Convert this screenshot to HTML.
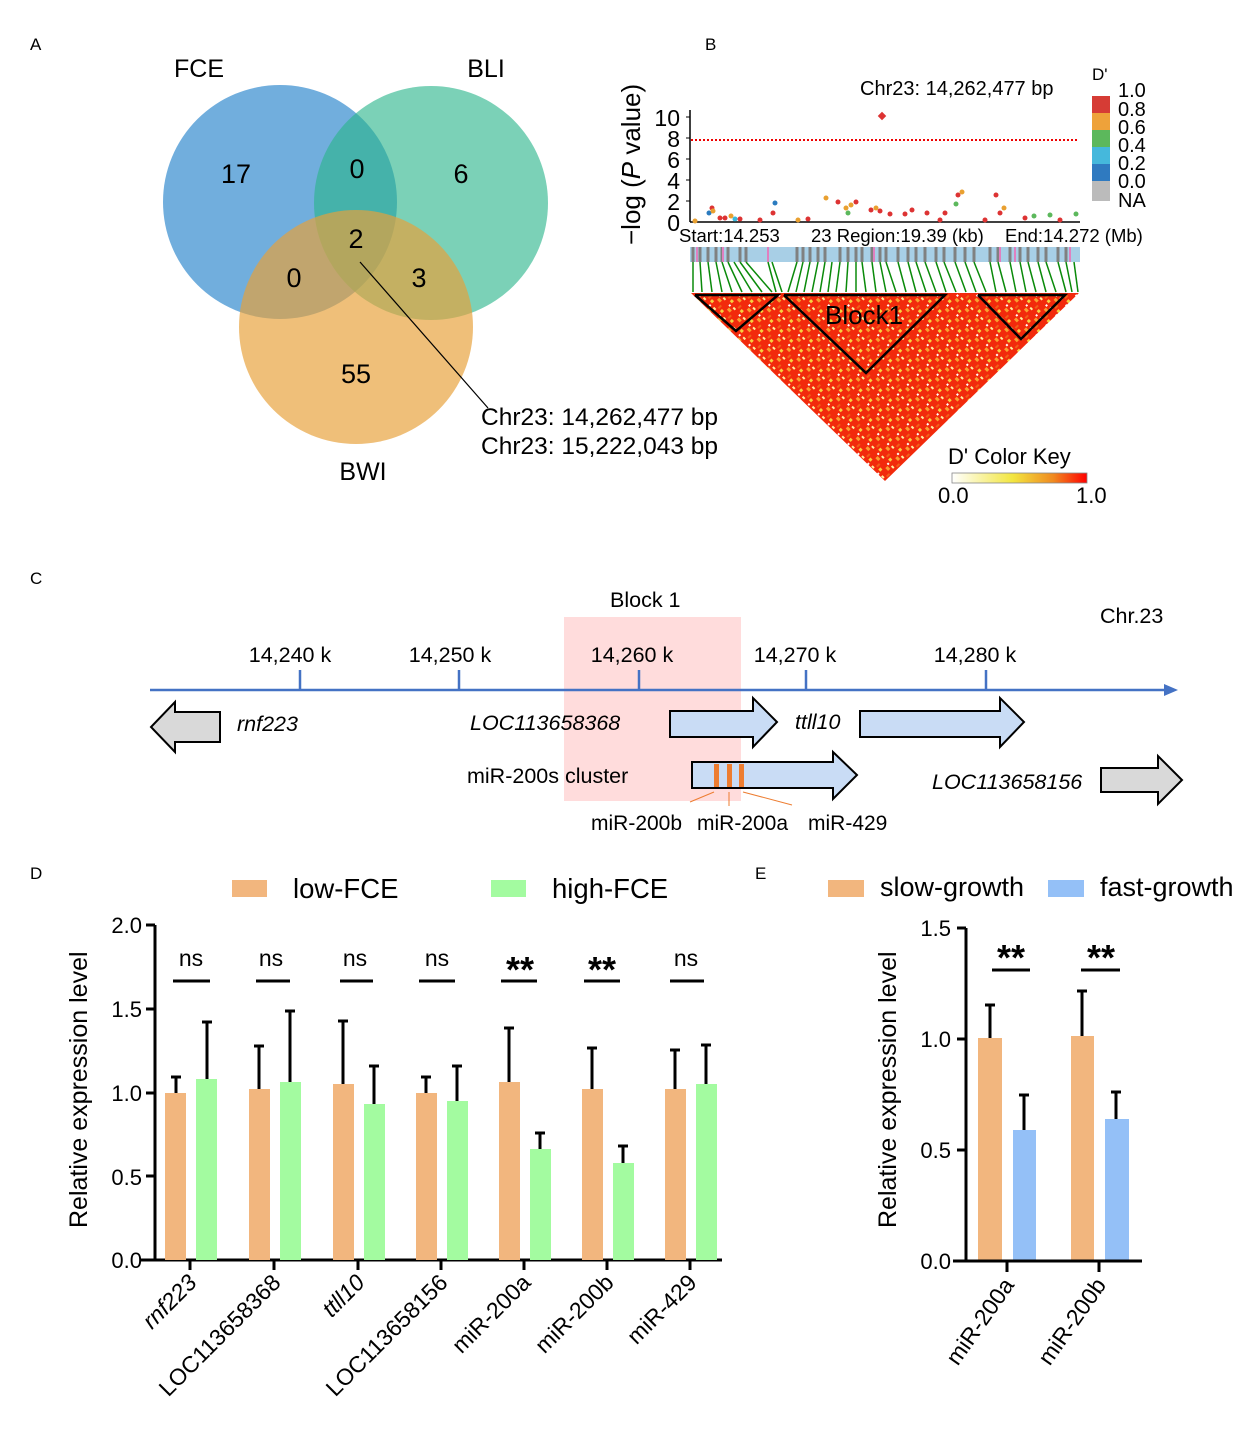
<!DOCTYPE html>
<html><head><meta charset="utf-8"><style>
html,body{margin:0;padding:0;background:#fff}
svg{display:block;font-family:"Liberation Sans",Arial,sans-serif}
</style></head><body>
<svg width="1253" height="1438" viewBox="0 0 1253 1438" xmlns="http://www.w3.org/2000/svg">
<defs>
<linearGradient id="ck" x1="0" x2="1" y1="0" y2="0">
<stop offset="0" stop-color="#ffffff"/><stop offset="0.45" stop-color="#f2e640"/><stop offset="0.75" stop-color="#f08a20"/><stop offset="1" stop-color="#ff0000"/></linearGradient>
<pattern id="ld" width="14" height="14" patternUnits="userSpaceOnUse" patternTransform="rotate(45)">
<rect width="14" height="14" fill="#f22a0c"/>
<rect x="1" y="2" width="3" height="3" fill="#f5d040"/>
<rect x="8" y="6" width="3" height="2" fill="#fff3a0"/>
<rect x="5" y="10" width="4" height="3" fill="#f7a030"/>
<rect x="11" y="0" width="2" height="4" fill="#f06018"/>
<rect x="3" y="7" width="2" height="2" fill="#ffffff"/>
</pattern>
</defs>

<!-- Panel labels -->
<g font-size="17" fill="#000">
<text x="30" y="50">A</text><text x="705" y="50">B</text><text x="30" y="584">C</text><text x="30" y="879">D</text><text x="755" y="879">E</text>
</g>

<!-- Panel A Venn -->
<circle cx="280" cy="202" r="117" fill="#3a8fd0" fill-opacity="0.72"/>
<circle cx="431" cy="203" r="117" fill="#2ab58a" fill-opacity="0.62"/>
<circle cx="356" cy="327" r="117" fill="#e7a13a" fill-opacity="0.68"/>
<g font-size="27" fill="#000" text-anchor="middle">
<text x="199" y="77" font-size="25">FCE</text><text x="486" y="77" font-size="25">BLI</text><text x="363" y="480" font-size="25">BWI</text>
<text x="236" y="183">17</text><text x="357" y="178">0</text><text x="461" y="183">6</text>
<text x="356" y="248">2</text><text x="294" y="287">0</text><text x="419" y="287">3</text><text x="356" y="383">55</text>
</g>
<line x1="360" y1="262" x2="488" y2="408" stroke="#000" stroke-width="1.2"/>
<text x="481" y="425" font-size="24.5">Chr23: 14,262,477 bp</text>
<text x="481" y="454" font-size="24.5">Chr23: 15,222,043 bp</text>

<!-- Panel B -->
<text transform="translate(640,245) rotate(-90)" font-size="26">−log (<tspan font-style="italic">P</tspan> value)</text>
<line x1="690" y1="110" x2="690" y2="222" stroke="#000" stroke-width="1.5"/>
<line x1="690" y1="222" x2="1080" y2="222" stroke="#000" stroke-width="1.5"/>
<g font-size="23" text-anchor="end">
<text x="680" y="126">10</text><text x="680" y="147">8</text><text x="680" y="168">6</text><text x="680" y="189">4</text><text x="680" y="210">2</text><text x="680" y="231">0</text>
</g>
<g stroke="#000" stroke-width="1"><line x1="686" y1="117" x2="690" y2="117"/><line x1="686" y1="138" x2="690" y2="138"/><line x1="686" y1="159" x2="690" y2="159"/><line x1="686" y1="180" x2="690" y2="180"/><line x1="686" y1="201" x2="690" y2="201"/></g>
<line x1="691" y1="140" x2="1078" y2="140" stroke="#e00" stroke-width="2" stroke-dasharray="2,2"/>
<rect x="879" y="113" width="6" height="6" fill="#d33" transform="rotate(45 882 116)"/>
<text x="860" y="95" font-size="20">Chr23: 14,262,477 bp</text>
<g>
<circle cx="709" cy="213" r="2.5" fill="#2b7bbf"/><circle cx="712" cy="208" r="2.5" fill="#d33"/><circle cx="713" cy="211" r="2.5" fill="#e9a030"/><circle cx="720" cy="218" r="2.5" fill="#d33"/><circle cx="725" cy="218" r="2.5" fill="#d33"/><circle cx="731" cy="216" r="2.5" fill="#e9a030"/><circle cx="735" cy="219" r="2.5" fill="#3ab8dc"/><circle cx="740" cy="219" r="2.5" fill="#d33"/><circle cx="775" cy="203" r="2.5" fill="#2b7bbf"/><circle cx="773" cy="213" r="2.5" fill="#d33"/><circle cx="798" cy="220" r="2.5" fill="#e9a030"/><circle cx="808" cy="219" r="2.5" fill="#d33"/><circle cx="826" cy="198" r="2.5" fill="#e9a030"/><circle cx="838" cy="202" r="2.5" fill="#d33"/><circle cx="846" cy="208" r="2.5" fill="#e9a030"/><circle cx="848" cy="213" r="2.5" fill="#5cb85c"/><circle cx="851" cy="205" r="2.5" fill="#e9a030"/><circle cx="856" cy="202" r="2.5" fill="#d33"/><circle cx="871" cy="210" r="2.5" fill="#d33"/><circle cx="876" cy="208" r="2.5" fill="#e9a030"/><circle cx="880" cy="211" r="2.5" fill="#d33"/><circle cx="890" cy="214" r="2.5" fill="#d33"/><circle cx="905" cy="214" r="2.5" fill="#d33"/><circle cx="912" cy="210" r="2.5" fill="#d33"/><circle cx="927" cy="213" r="2.5" fill="#d33"/><circle cx="945" cy="213" r="2.5" fill="#d33"/><circle cx="956" cy="204" r="2.5" fill="#5cb85c"/><circle cx="958" cy="195" r="2.5" fill="#d33"/><circle cx="962" cy="192" r="2.5" fill="#e9a030"/><circle cx="996" cy="195" r="2.5" fill="#d33"/><circle cx="1000" cy="213" r="2.5" fill="#d33"/><circle cx="1004" cy="208" r="2.5" fill="#e9a030"/><circle cx="1025" cy="218" r="2.5" fill="#d33"/><circle cx="1034" cy="216" r="2.5" fill="#5cb85c"/><circle cx="1050" cy="215" r="2.5" fill="#5cb85c"/><circle cx="1076" cy="214" r="2.5" fill="#5cb85c"/>
<circle cx="695" cy="221" r="2.5" fill="#e9a030"/><circle cx="760" cy="220" r="2.5" fill="#d33"/><circle cx="940" cy="220" r="2.5" fill="#d33"/><circle cx="985" cy="220" r="2.5" fill="#d33"/><circle cx="1060" cy="220" r="2.5" fill="#d33"/>
</g>
<text x="679" y="242" font-size="18.5">Start:14.253</text>
<text x="811" y="242" font-size="18.5">23 Region:19.39 (kb)</text>
<text x="1005" y="242" font-size="18.5">End:14.272 (Mb)</text>
<!-- legend D' -->
<text x="1092" y="80" font-size="17">D'</text>
<rect x="1092" y="96" width="18" height="17" fill="#d63c35"/>
<rect x="1092" y="113" width="18" height="17" fill="#eea23a"/>
<rect x="1092" y="130" width="18" height="17" fill="#5cb85c"/>
<rect x="1092" y="147" width="18" height="17" fill="#45b8dc"/>
<rect x="1092" y="164" width="18" height="17" fill="#2f7ac0"/>
<rect x="1092" y="181" width="18" height="20" fill="#bbbbbb"/>
<g font-size="20"><text x="1118" y="97">1.0</text><text x="1118" y="116">0.8</text><text x="1118" y="134">0.6</text><text x="1118" y="152">0.4</text><text x="1118" y="170">0.2</text><text x="1118" y="188">0.0</text><text x="1118" y="207">NA</text></g>
<!-- gene bar -->
<rect x="690" y="247" width="390" height="15" fill="#a8cfe6"/>
<g stroke="#808080" stroke-width="3">
<line x1="693" y1="247" x2="693" y2="262"/><line x1="700" y1="247" x2="700" y2="262"/><line x1="708" y1="247" x2="708" y2="262"/><line x1="716" y1="247" x2="716" y2="262"/><line x1="722" y1="247" x2="722" y2="262"/><line x1="728" y1="247" x2="728" y2="262"/><line x1="740" y1="247" x2="740" y2="262"/><line x1="746" y1="247" x2="746" y2="262"/><line x1="797" y1="247" x2="797" y2="262"/><line x1="803" y1="247" x2="803" y2="262"/><line x1="810" y1="247" x2="810" y2="262"/><line x1="818" y1="247" x2="818" y2="262"/><line x1="825" y1="247" x2="825" y2="262"/><line x1="840" y1="247" x2="840" y2="262"/><line x1="848" y1="247" x2="848" y2="262"/><line x1="856" y1="247" x2="856" y2="262"/><line x1="862" y1="247" x2="862" y2="262"/><line x1="872" y1="247" x2="872" y2="262"/><line x1="880" y1="247" x2="880" y2="262"/><line x1="886" y1="247" x2="886" y2="262"/><line x1="898" y1="247" x2="898" y2="262"/><line x1="908" y1="247" x2="908" y2="262"/><line x1="916" y1="247" x2="916" y2="262"/><line x1="925" y1="247" x2="925" y2="262"/><line x1="936" y1="247" x2="936" y2="262"/><line x1="944" y1="247" x2="944" y2="262"/><line x1="955" y1="247" x2="955" y2="262"/><line x1="965" y1="247" x2="965" y2="262"/><line x1="974" y1="247" x2="974" y2="262"/><line x1="990" y1="247" x2="990" y2="262"/><line x1="998" y1="247" x2="998" y2="262"/><line x1="1010" y1="247" x2="1010" y2="262"/><line x1="1020" y1="247" x2="1020" y2="262"/><line x1="1028" y1="247" x2="1028" y2="262"/><line x1="1038" y1="247" x2="1038" y2="262"/><line x1="1046" y1="247" x2="1046" y2="262"/><line x1="1058" y1="247" x2="1058" y2="262"/><line x1="1066" y1="247" x2="1066" y2="262"/>
</g>
<g stroke="#e080c0" stroke-width="2"><line x1="697" y1="247" x2="697" y2="262"/><line x1="723" y1="247" x2="723" y2="262"/><line x1="768" y1="247" x2="768" y2="262"/><line x1="874" y1="247" x2="874" y2="262"/><line x1="1000" y1="247" x2="1000" y2="262"/><line x1="1015" y1="247" x2="1015" y2="262"/><line x1="1070" y1="247" x2="1070" y2="262"/></g>
<!-- green lines -->
<g stroke="#0a8a0a" stroke-width="1.5">
<line x1="693" y1="262" x2="693" y2="292"/><line x1="700" y1="262" x2="702" y2="292"/><line x1="708" y1="262" x2="712" y2="292"/><line x1="716" y1="262" x2="722" y2="292"/><line x1="722" y1="262" x2="732" y2="292"/><line x1="728" y1="262" x2="742" y2="292"/><line x1="734" y1="262" x2="752" y2="292"/><line x1="740" y1="262" x2="762" y2="292"/><line x1="746" y1="262" x2="772" y2="292"/><line x1="768" y1="262" x2="776" y2="292"/><line x1="772" y1="262" x2="782" y2="292"/>
<line x1="797" y1="262" x2="788" y2="292"/><line x1="803" y1="262" x2="796" y2="292"/><line x1="810" y1="262" x2="804" y2="292"/><line x1="818" y1="262" x2="812" y2="292"/><line x1="825" y1="262" x2="820" y2="292"/><line x1="832" y1="262" x2="828" y2="292"/><line x1="840" y1="262" x2="836" y2="292"/><line x1="848" y1="262" x2="846" y2="292"/><line x1="856" y1="262" x2="856" y2="292"/><line x1="862" y1="262" x2="866" y2="292"/><line x1="872" y1="262" x2="876" y2="292"/><line x1="880" y1="262" x2="886" y2="292"/><line x1="886" y1="262" x2="896" y2="292"/><line x1="898" y1="262" x2="906" y2="292"/><line x1="908" y1="262" x2="916" y2="292"/><line x1="916" y1="262" x2="926" y2="292"/><line x1="925" y1="262" x2="936" y2="292"/><line x1="936" y1="262" x2="946" y2="292"/><line x1="944" y1="262" x2="956" y2="292"/><line x1="955" y1="262" x2="966" y2="292"/><line x1="965" y1="262" x2="976" y2="292"/><line x1="974" y1="262" x2="986" y2="292"/><line x1="990" y1="262" x2="996" y2="292"/><line x1="998" y1="262" x2="1006" y2="292"/><line x1="1010" y1="262" x2="1016" y2="292"/><line x1="1020" y1="262" x2="1026" y2="292"/><line x1="1028" y1="262" x2="1036" y2="292"/><line x1="1038" y1="262" x2="1046" y2="292"/><line x1="1046" y1="262" x2="1056" y2="292"/><line x1="1058" y1="262" x2="1066" y2="292"/><line x1="1066" y1="262" x2="1072" y2="292"/><line x1="1074" y1="262" x2="1078" y2="292"/>
</g>
<!-- LD triangle -->
<polygon points="691,293 1079,293 885,481" fill="url(#ld)"/>
<g fill="none" stroke="#000" stroke-width="2.5">
<polyline points="695,295 778,295 736,331 695,295"/>
<polyline points="784,295 945,295 866,373 784,295"/>
<polyline points="978,295 1065,295 1021,339 978,295"/>
</g>
<text x="825" y="324" font-size="26">Block1</text>
<text x="948" y="464" font-size="22">D' Color Key</text>
<rect x="952" y="473" width="135" height="10" fill="url(#ck)" stroke="#888" stroke-width="0.8"/>
<text x="938" y="503" font-size="22">0.0</text><text x="1076" y="503" font-size="22">1.0</text>

<!-- Panel C -->
<rect x="564" y="617" width="177" height="184" fill="#ffd6d6" fill-opacity="0.85"/>
<text x="610" y="607" font-size="21.5">Block 1</text>
<text x="1100" y="623" font-size="21.5">Chr.23</text>
<line x1="150" y1="690" x2="1168" y2="690" stroke="#4472c4" stroke-width="2.5"/>
<polygon points="1178,690 1164,684 1164,696" fill="#4472c4"/>
<g stroke="#4472c4" stroke-width="2.5"><line x1="300" y1="670" x2="300" y2="690"/><line x1="459" y1="670" x2="459" y2="690"/><line x1="639" y1="670" x2="639" y2="690"/><line x1="806" y1="670" x2="806" y2="690"/><line x1="986" y1="670" x2="986" y2="690"/></g>
<g font-size="21.5" text-anchor="middle"><text x="290" y="662">14,240 k</text><text x="450" y="662">14,250 k</text><text x="632" y="662">14,260 k</text><text x="795" y="662">14,270 k</text><text x="975" y="662">14,280 k</text></g>
<g stroke="#000" stroke-width="2">
<polygon points="220,712 175,712 175,702 151,727 175,752 175,742 220,742" fill="#d9d9d9"/>
<polygon points="670,711 753,711 753,698 777,722 753,747 753,737 670,737" fill="#c9dcf5"/>
<polygon points="860,711 1000,711 1000,698 1024,722 1000,747 1000,737 860,737" fill="#c9dcf5"/>
<polygon points="692,762 833,762 833,752 857,775 833,799 833,788 692,788" fill="#c9dcf5"/>
<polygon points="1101,768 1158,768 1158,756 1182,780 1158,804 1158,792 1101,792" fill="#d9d9d9"/>
</g>
<rect x="714" y="764" width="5" height="23" fill="#ed7d31"/><rect x="727" y="764" width="5" height="23" fill="#ed7d31"/><rect x="739" y="764" width="5" height="23" fill="#ed7d31"/>
<g stroke="#ed7d31" stroke-width="1"><line x1="714" y1="792" x2="690" y2="802"/><line x1="729" y1="792" x2="729" y2="806"/><line x1="743" y1="792" x2="792" y2="805"/></g>
<g font-size="21.5" font-style="italic"><text x="237" y="731">rnf223</text><text x="470" y="730">LOC113658368</text><text x="795" y="729">ttll10</text><text x="932" y="789">LOC113658156</text></g>
<text x="467" y="783" font-size="21.5">miR-200s cluster</text>
<g font-size="21"><text x="591" y="830">miR-200b</text><text x="697" y="830">miR-200a</text><text x="808" y="830">miR-429</text></g>

<!-- Panel D -->
<rect x="232" y="880" width="35" height="17" fill="#f2b67e"/><text x="293" y="898" font-size="27.5">low-FCE</text>
<rect x="491" y="880" width="35" height="17" fill="#a3fba0"/><text x="552" y="898" font-size="27.5">high-FCE</text>
<text transform="translate(87,1228) rotate(-90)" font-size="25">Relative expression level</text>
<g font-size="22" text-anchor="end"><text x="142" y="933">2.0</text><text x="142" y="1017">1.5</text><text x="142" y="1101">1.0</text><text x="142" y="1185">0.5</text><text x="142" y="1268">0.0</text></g>
<g stroke="#000" stroke-width="3">
<line x1="155" y1="925" x2="155" y2="1261"/><line x1="140" y1="1260" x2="722" y2="1260"/>
<line x1="146" y1="925" x2="155" y2="925"/><line x1="146" y1="1009" x2="155" y2="1009"/><line x1="146" y1="1093" x2="155" y2="1093"/><line x1="146" y1="1176" x2="155" y2="1176"/>
<line x1="190" y1="1260" x2="190" y2="1270"/><line x1="274" y1="1260" x2="274" y2="1270"/><line x1="358" y1="1260" x2="358" y2="1270"/><line x1="441" y1="1260" x2="441" y2="1270"/><line x1="524" y1="1260" x2="524" y2="1270"/><line x1="607" y1="1260" x2="607" y2="1270"/><line x1="690" y1="1260" x2="690" y2="1270"/>
</g>
<g fill="#f2b67e">
<rect x="165" y="1093" width="21" height="167"/><rect x="249" y="1089" width="21" height="171"/><rect x="333" y="1084" width="21" height="176"/><rect x="416" y="1093" width="21" height="167"/><rect x="499" y="1082" width="21" height="178"/><rect x="582" y="1089" width="21" height="171"/><rect x="665" y="1089" width="21" height="171"/>
</g>
<g fill="#a3fba0">
<rect x="196" y="1079" width="21" height="181"/><rect x="280" y="1082" width="21" height="178"/><rect x="364" y="1104" width="21" height="156"/><rect x="447" y="1101" width="21" height="159"/><rect x="530" y="1149" width="21" height="111"/><rect x="613" y="1163" width="21" height="97"/><rect x="696" y="1084" width="21" height="176"/>
</g>
<g stroke="#000" stroke-width="3">
<path d="M176 1093V1077M171 1077H181"/><path d="M207 1079V1022M202 1022H212"/>
<path d="M259 1089V1046M254 1046H264"/><path d="M290 1082V1011M285 1011H295"/>
<path d="M343 1084V1021M338 1021H348"/><path d="M374 1104V1066M369 1066H379"/>
<path d="M426 1093V1077M421 1077H431"/><path d="M457 1101V1066M452 1066H462"/>
<path d="M509 1082V1028M504 1028H514"/><path d="M540 1149V1133M535 1133H545"/>
<path d="M592 1089V1048M587 1048H597"/><path d="M623 1163V1146M618 1146H628"/>
<path d="M675 1089V1050M670 1050H680"/><path d="M706 1084V1045M701 1045H711"/>
<path d="M173 981H210M256 981H290M340 981H373M419 981H455M501 981H537M584 981H620M670 981H704"/>
</g>
<g font-size="23" text-anchor="middle"><text x="191" y="966">ns</text><text x="271" y="966">ns</text><text x="355" y="966">ns</text><text x="437" y="966">ns</text><text x="686" y="966">ns</text></g>
<g font-size="36" font-weight="bold" text-anchor="middle"><text x="520" y="982">**</text><text x="602" y="982">**</text></g>
<g font-size="23" text-anchor="end">
<text transform="translate(198,1284) rotate(-45)" font-style="italic">rnf223</text>
<text transform="translate(282,1284) rotate(-45)">LOC113658368</text>
<text transform="translate(366,1284) rotate(-45)" font-style="italic">ttll10</text>
<text transform="translate(449,1284) rotate(-45)">LOC113658156</text>
<text transform="translate(532,1284) rotate(-45)">miR-200a</text>
<text transform="translate(615,1284) rotate(-45)">miR-200b</text>
<text transform="translate(698,1284) rotate(-45)">miR-429</text>
</g>

<!-- Panel E -->
<rect x="828" y="880" width="36" height="17" fill="#f2b67e"/><text x="880" y="896" font-size="27">slow-growth</text>
<rect x="1048" y="880" width="36" height="17" fill="#94c0f7"/><text x="1100" y="896" font-size="27">fast-growth</text>
<text transform="translate(896,1228) rotate(-90)" font-size="25">Relative expression level</text>
<g font-size="22" text-anchor="end"><text x="951" y="936">1.5</text><text x="951" y="1047">1.0</text><text x="951" y="1158">0.5</text><text x="951" y="1269">0.0</text></g>
<g fill="#f2b67e"><rect x="978" y="1038" width="24" height="223"/><rect x="1071" y="1036" width="23" height="225"/></g>
<g fill="#94c0f7"><rect x="1013" y="1130" width="23" height="131"/><rect x="1105" y="1119" width="24" height="142"/></g>
<g stroke="#000" stroke-width="3">
<line x1="966" y1="928" x2="966" y2="1262"/><line x1="953" y1="1261" x2="1142" y2="1261"/>
<line x1="957" y1="928" x2="966" y2="928"/><line x1="957" y1="1039" x2="966" y2="1039"/><line x1="957" y1="1150" x2="966" y2="1150"/>
<line x1="1007" y1="1261" x2="1007" y2="1272"/><line x1="1099" y1="1261" x2="1099" y2="1272"/>
<path d="M990 1038V1005M985 1005H995"/><path d="M1024 1130V1095M1019 1095H1029"/>
<path d="M1082 1036V991M1077 991H1087"/><path d="M1116 1119V1092M1111 1092H1121"/>
<path d="M992 970H1030M1081 970H1120"/>
</g>
<g font-size="36" font-weight="bold" text-anchor="middle"><text x="1011" y="970">**</text><text x="1101" y="970">**</text></g>
<g font-size="23" text-anchor="end">
<text transform="translate(1015,1285) rotate(-55)">miR-200a</text>
<text transform="translate(1107,1285) rotate(-55)">miR-200b</text>
</g>
</svg>
</body></html>
